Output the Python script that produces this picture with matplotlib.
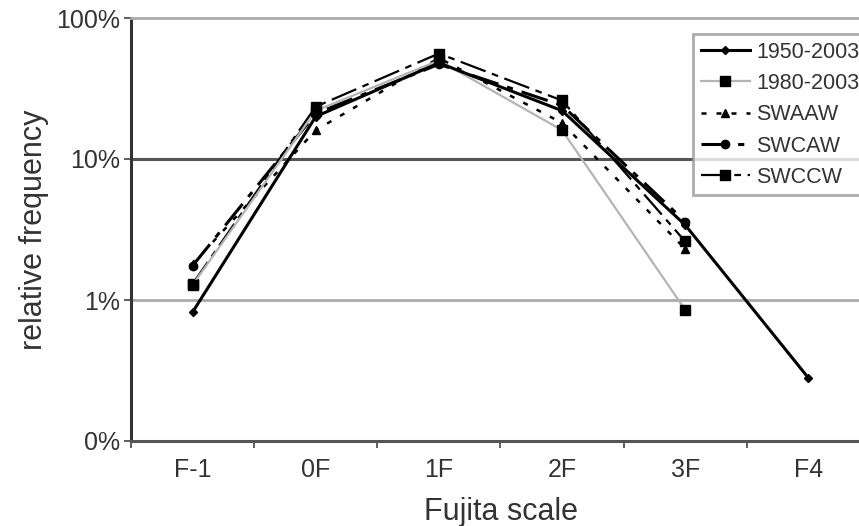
import numpy as np
import matplotlib
matplotlib.use("Agg")
import matplotlib.pyplot as plt
from matplotlib.ticker import FixedLocator, NullFormatter

plt.rcParams['font.family'] = ['Liberation Sans', 'DejaVu Sans']

categories = ["F-1", "0F", "1F", "2F", "3F", "F4"]
s1950_2003 = [0.82, 20.0, 48.0, 22.0, 3.4, 0.28]
s1980_2003 = [1.28, 22.0, 50.0, 16.0, 0.85, np.nan]
swaaw = [1.8, 16.0, 52.0, 18.0, 2.3, np.nan]
swcaw = [1.75, 21.0, 47.0, 24.0, 3.6, np.nan]
swccw = [1.3, 23.5, 56.0, 26.0, 2.6, np.nan]
yticks = [0.1, 1, 10, 100]
ytick_labels = ["0%", "1%", "10%", "100%"]

fig = plt.figure(figsize=(8.59, 5.26), dpi=100)
ax = fig.add_axes([131/859, 1-441/526, (870-131)/859, (441-18)/526])

x = np.arange(len(categories))
ax.plot(x, s1950_2003, color='black', lw=2.2, marker='D', ms=4,
        label='1950-2003', zorder=5)
ax.plot(x, s1980_2003, color='#b4b4b4', lw=1.6, marker='s', ms=7,
        mfc='black', mec='black', label='1980-2003', zorder=4)
ax.plot(x, swaaw, color='black', lw=1.8, ls=(0, (2, 4)), marker='^', ms=6,
        label='SWAAW', zorder=3)
ax.plot(x, swcaw, color='black', lw=2.2, ls=(0, (9, 3, 2, 3)), marker='o', ms=6,
        label='SWCAW', zorder=3)
ax.plot(x, swccw, color='black', lw=1.6, ls=(0, (12, 3, 3, 3)), marker='s', ms=7,
        label='SWCCW', zorder=3)

ax.set_yscale('log')
ax.set_ylim(0.1, 100)
ax.set_xlim(-0.5, len(categories) - 0.5)
ax.yaxis.set_major_locator(FixedLocator(yticks))
ax.set_yticklabels(ytick_labels)
ax.yaxis.set_minor_locator(FixedLocator([]))
ax.yaxis.set_minor_formatter(NullFormatter())

ax.set_xticks(x)
ax.set_xticklabels(categories)
ax.set_xticks(np.arange(len(categories) + 1) - 0.5, minor=True)
ax.tick_params(axis='x', which='major', length=0, pad=12, labelsize=18, colors='#333333')
ax.tick_params(axis='x', which='minor', length=5, width=1.2, direction='out', color='#444444')
ax.tick_params(axis='y', which='major', length=5, width=1.2, direction='out',
               color='#444444', labelsize=18, labelcolor='#333333', pad=3)

ax.axhline(10, color='#555555', lw=2.2, zorder=1)
ax.axhline(1, color='#aaaaaa', lw=2.0, zorder=1)

ax.spines['right'].set_visible(False)
ax.spines['top'].set_color('#aaaaaa')
ax.spines['top'].set_linewidth(2.0)
ax.spines['left'].set_color('#333333')
ax.spines['left'].set_linewidth(2.2)
ax.spines['bottom'].set_color('#555555')
ax.spines['bottom'].set_linewidth(2.2)

ax.set_xlabel('Fujita scale', fontsize=22, color='#333333', labelpad=11)
ax.set_ylabel('relative frequency', fontsize=22, color='#333333', labelpad=5)

leg = ax.legend(loc='upper left', bbox_to_anchor=(693/859, 1-34/526),
                bbox_transform=fig.transFigure, fontsize=15.5, frameon=True,
                fancybox=False, edgecolor='#999999', handlelength=2.3,
                handletextpad=0.3, labelspacing=0.48, borderpad=0.35,
                borderaxespad=0)
leg.get_frame().set_linewidth(2.0)
for t in leg.get_texts():
    t.set_color('#333333')

fig.savefig('out.png', dpi=100)
